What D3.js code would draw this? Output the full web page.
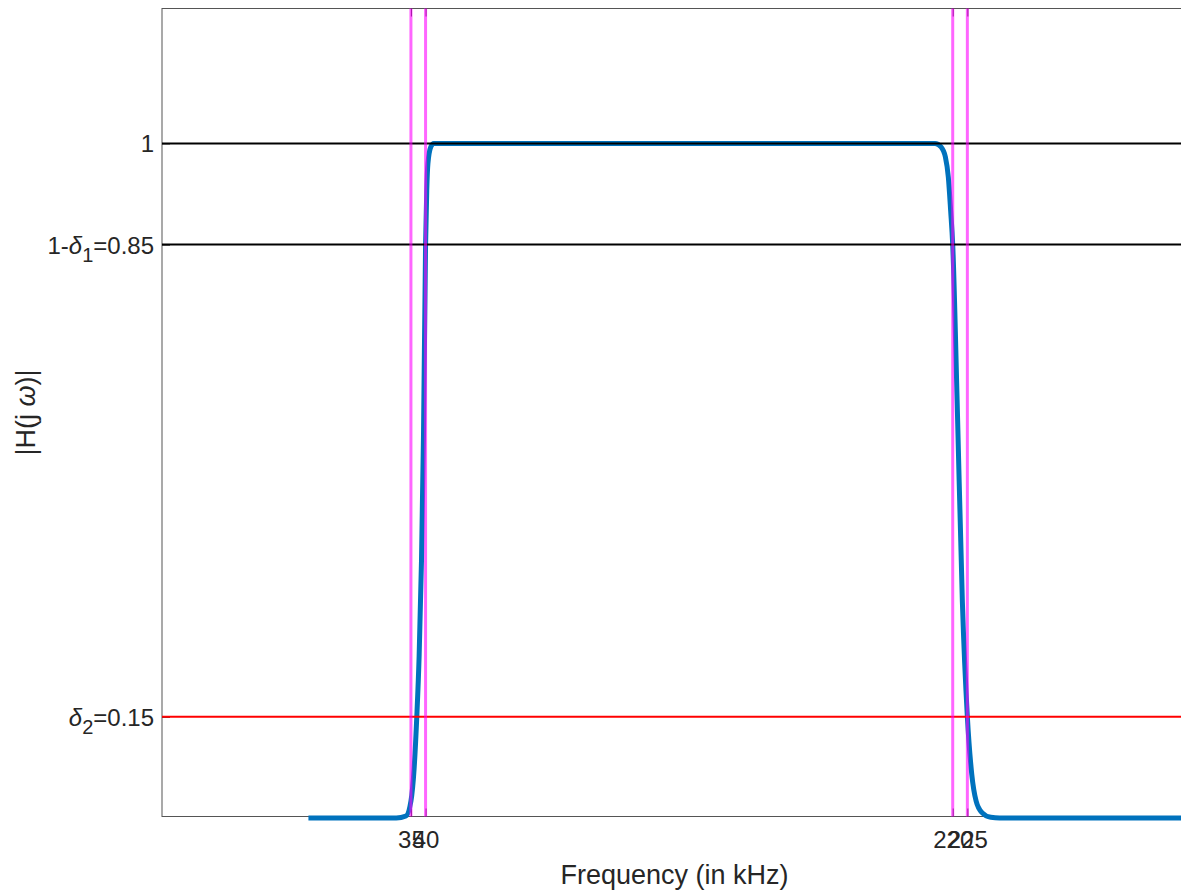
<!DOCTYPE html>
<html>
<head>
<meta charset="utf-8">
<script src="https://cdn.jsdelivr.net/npm/d3@7"></script>
<style>
  body { margin: 0; background: #fff; }
  svg { display: block; font-family: "Liberation Sans", Arial, Helvetica, sans-serif; }
</style>
</head>
<body>
<div id="vis"></div>
<script>
// bandpass magnitude response
const freqKHz = [0, 30, 33.3, 35, 36.1, 37, 37.8, 38.6, 39.3, 40, 40.4, 40.8, 41.8, 42.8,
  120, 214, 216, 217.5, 218.5, 219.3, 220, 221.5, 223.3, 225, 226.5, 228, 230, 233, 236, 300];
const magnitude = [0, 0, 0.003, 0.025, 0.074, 0.15, 0.24, 0.38, 0.57, 0.85, 0.93, 0.97, 0.995, 1,
  1, 1, 0.995, 0.98, 0.95, 0.9, 0.85, 0.62, 0.32, 0.15, 0.065, 0.025, 0.008, 0.001, 0, 0];

// spec lines
const passLevels = [1, 0.85];
const stopLevels = [0.15];
const bandEdges = [35, 40, 220, 225];

// ticks
const xTickValues = [35, 40, 220, 225];
const yTickValues = [0.15, 0.85, 1];
const yTickLabels = ["δ_2=0.15", "1-δ_1=0.85", "1"];

const WIDTH = 1181;
const HEIGHT = 894;
const LEFT = 162, RIGHT = 1187, TOP = 8.5, BOTTOM = 816.5;

const svg = d3.select("#vis").append("svg")
  .attr("width", WIDTH).attr("height", HEIGHT);

const x = d3.scaleLinear().domain([-50, 300]).range([LEFT, RIGHT]);
const y = d3.scaleLinear().domain([0, 1.2]).range([BOTTOM + 1.5, TOP]);

// axes box
const axisColor = "#262626";
svg.append("rect")
  .attr("x", LEFT).attr("y", TOP)
  .attr("width", RIGHT - LEFT).attr("height", BOTTOM - TOP)
  .attr("fill", "none").attr("stroke", "#555").attr("stroke-width", 1);

// ticks (inward)
const xAxis = svg.append("g")
  .attr("transform", `translate(0,${BOTTOM})`)
  .call(d3.axisBottom(x).tickValues(xTickValues).tickSize(-8).tickPadding(14).tickFormat(d3.format("d")));
const xAxisTop = svg.append("g")
  .attr("transform", `translate(0,${TOP})`)
  .call(d3.axisTop(x).tickValues(xTickValues).tickSize(-8).tickFormat(""));
const yAxis = svg.append("g")
  .attr("transform", `translate(${LEFT},0)`)
  .call(d3.axisLeft(y).tickValues(yTickValues).tickSize(-8).tickFormat(""));

[xAxis, xAxisTop, yAxis].forEach(g => {
  g.select(".domain").remove();
  g.selectAll(".tick line").attr("stroke", axisColor);
});
xAxis.selectAll("text")
  .attr("fill", axisColor)
  .style("font-size", "24px")
  .style("font-family", '"Liberation Sans", Arial, sans-serif');

// y tick labels with TeX-like subscripts
yAxis.selectAll(".tick").each(function(d, i) {
  const label = yTickLabels[i];
  const t = d3.select(this).append("text")
    .attr("x", -8).attr("dy", "0.35em")
    .attr("text-anchor", "end")
    .attr("fill", axisColor)
    .style("font-size", "24px");
  const parts = label.split("_");
  parts.forEach((p, k) => {
    if (k === 0) {
      const pre = p.replace("δ", "");
      if (pre) t.append("tspan").text(pre);
      if (p.includes("δ")) t.append("tspan").style("font-style", "italic").text("δ");
    } else {
      t.append("tspan").attr("dy", 8).style("font-size", "20px").text(p[0]);
      t.append("tspan").attr("dy", -8).text(p.slice(1));
    }
  });
});

// response curve
const line = d3.line()
  .x((d, i) => x(freqKHz[i]))
  .y((d, i) => y(magnitude[i]))
  .curve(d3.curveMonotoneX);

svg.append("path")
  .datum(freqKHz)
  .attr("d", line)
  .attr("fill", "none")
  .attr("stroke", "#0072BD")
  .attr("stroke-width", 5)
  .attr("stroke-linejoin", "round");

// passband / stopband levels
svg.selectAll(".pass")
  .data(passLevels)
  .enter()
  .append("line")
  .attr("class", "pass")
  .attr("x1", LEFT).attr("x2", RIGHT)
  .attr("y1", d => y(d)).attr("y2", d => y(d))
  .attr("stroke", "#000").attr("stroke-width", 2);

svg.selectAll(".stop")
  .data(stopLevels)
  .enter()
  .append("line")
  .attr("class", "stop")
  .attr("x1", LEFT).attr("x2", RIGHT)
  .attr("y1", d => y(d)).attr("y2", d => y(d))
  .attr("stroke", "#ff0000").attr("stroke-width", 2);

// band edges
svg.selectAll(".edge")
  .data(bandEdges)
  .enter()
  .append("line")
  .attr("class", "edge")
  .attr("x1", d => x(d)).attr("x2", d => x(d))
  .attr("y1", TOP).attr("y2", BOTTOM)
  .attr("stroke", "#ff00ff").attr("stroke-width", 3)
  .attr("stroke-opacity", 0.6);

// axis labels
svg.append("text")
  .attr("x", x(125)).attr("y", 884)
  .attr("text-anchor", "middle")
  .attr("fill", axisColor)
  .style("font-size", "27px")
  .text("Frequency (in kHz)");

const yl = svg.append("text")
  .attr("transform", `translate(35,${(TOP + BOTTOM) / 2}) rotate(-90)`)
  .attr("text-anchor", "middle")
  .attr("fill", axisColor)
  .style("font-size", "27px");
yl.append("tspan").text("|H(j ");
yl.append("tspan").style("font-style", "italic").text("ω");
yl.append("tspan").text(")|");
</script>
</body>
</html>
